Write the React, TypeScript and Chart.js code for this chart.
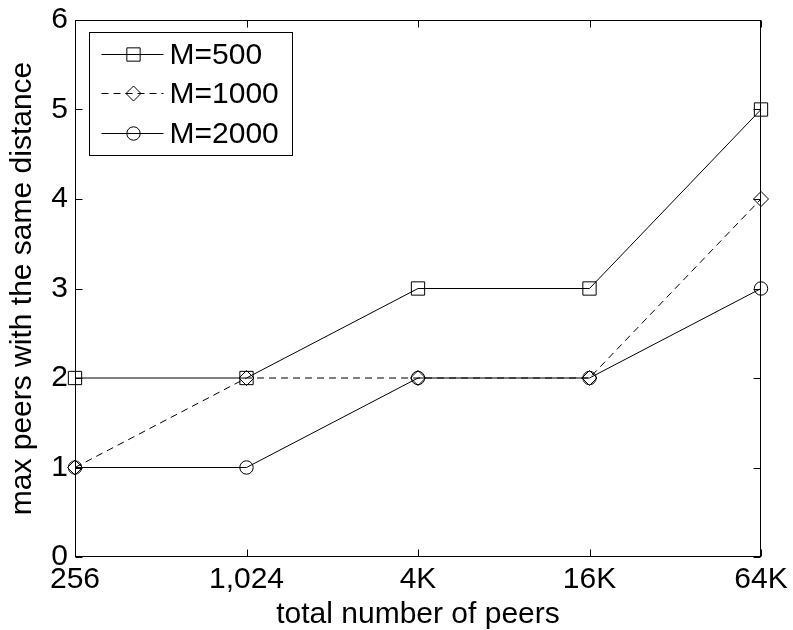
import React, { useEffect, useRef } from 'react';
import { Chart, registerables } from 'chart.js';

Chart.register(...registerables);

const categories = ['256', '1,024', '4K', '16K', '64K'];
const seriesNames = ['M=500', 'M=1000', 'M=2000'];
const m500 = [2, 2, 3, 3, 5];
const m1000 = [1, 2, 2, 2, 4];
const m2000 = [1, 1, 2, 2, 3];
const yMin = 0;
const yMax = 6;
const yStep = 1;
const xTitle = 'total number of peers';
const yTitle = 'max peers with the same distance';

const FONT = "'Liberation Sans', Arial, Helvetica, sans-serif";
const FS = 30;

const markerStyles = ['rect', 'rectRot', 'circle'];
const markerRadii = [9.4, 7.5, 6.7];
const dashes: number[][] = [[], [7, 5], []];

function drawMarker(ctx: CanvasRenderingContext2D, style: string, r: number, x: number, y: number) {
  ctx.beginPath();
  if (style === 'rect') {
    const s = Math.SQRT1_2 * r;
    ctx.rect(x - s, y - s, 2 * s, 2 * s);
  } else if (style === 'rectRot') {
    ctx.moveTo(x - r, y);
    ctx.lineTo(x, y - r);
    ctx.lineTo(x + r, y);
    ctx.lineTo(x, y + r);
    ctx.closePath();
  } else {
    ctx.arc(x, y, r, 0, Math.PI * 2);
  }
  ctx.stroke();
}

const framePlugin = {
  id: 'frame',
  afterDraw(chart: any) {
    const { ctx, chartArea, scales } = chart;
    const L = Math.round(chartArea.left) + 0.5;
    const R = Math.round(chartArea.right) - 0.5;
    const T = Math.round(chartArea.top) + 0.5;
    const B = Math.round(chartArea.bottom) - 0.5;
    ctx.save();
    ctx.strokeStyle = '#000';
    ctx.lineWidth = 1;
    ctx.setLineDash([]);
    ctx.strokeRect(L, T, R - L, B - T);
    const tl = 7;
    scales.x.ticks.forEach((_t: any, i: number) => {
      const px = Math.round(scales.x.getPixelForTick(i)) + 0.5;
      ctx.beginPath();
      ctx.moveTo(px, B);
      ctx.lineTo(px, B - tl);
      ctx.moveTo(px, T);
      ctx.lineTo(px, T + tl);
      ctx.stroke();
    });
    scales.y.ticks.forEach((_t: any, i: number) => {
      const py = Math.round(scales.y.getPixelForTick(i)) + 0.5;
      ctx.beginPath();
      ctx.moveTo(L, py);
      ctx.lineTo(L + tl, py);
      ctx.moveTo(R, py);
      ctx.lineTo(R - tl, py);
      ctx.stroke();
    });

    // legend
    const bx = Math.round(chartArea.left) + 14.5;
    const by = Math.round(chartArea.top) + 12.5;
    const bw = 203;
    const bh = 123;
    ctx.fillStyle = '#fff';
    ctx.fillRect(bx, by, bw, bh);
    ctx.strokeRect(bx, by, bw, bh);
    chart.data.datasets.forEach((ds: any, i: number) => {
      const ly = Math.round(by + 21 + i * 39.5) + 0.5;
      const x0 = bx + 12;
      const x1 = bx + 74;
      const mx = bx + 44;
      ctx.strokeStyle = ds.borderColor;
      ctx.lineWidth = 1;
      ctx.setLineDash(ds.borderDash || []);
      ctx.beginPath();
      ctx.moveTo(x0, ly);
      ctx.lineTo(x1, ly);
      ctx.stroke();
      ctx.setLineDash([]);
      drawMarker(ctx, ds.pointStyle, ds.pointRadius, mx, ly);
      ctx.fillStyle = '#000';
      ctx.font = `${FS}px ${FONT}`;
      ctx.textAlign = 'left';
      ctx.textBaseline = 'middle';
      ctx.fillText(ds.label, bx + 80, ly + 1);
    });
    ctx.restore();
  },
};

export default function App() {
  const ref = useRef<HTMLCanvasElement>(null);
  useEffect(() => {
    if (!ref.current) return;
    Chart.defaults.color = '#000';
    Chart.defaults.font.family = FONT;
    const series = [m500, m1000, m2000];
    const chart = new Chart(ref.current, {
      type: 'line',
      data: {
        labels: categories,
        datasets: series.map((d, i) => ({
          label: seriesNames[i],
          data: d,
          borderColor: '#000',
          borderWidth: 1,
          borderDash: dashes[i],
          pointStyle: markerStyles[i] as any,
          pointRadius: markerRadii[i],
          pointBorderColor: '#000',
          pointBackgroundColor: 'rgba(0,0,0,0)',
          pointBorderWidth: 1,
          tension: 0,
          clip: false as any,
          fill: false,
        })),
      },
      options: {
        responsive: false,
        animation: false,
        events: [],
        layout: { padding: { left: 0, top: 20, right: 32, bottom: 0 } },
        plugins: { legend: { display: false }, tooltip: { enabled: false } },
        scales: {
          x: {
            type: 'category',
            offset: false,
            grid: { display: false, drawTicks: false },
            border: { display: false },
            ticks: {
              font: { size: FS, family: FONT },
              color: '#000',
              padding: 5,
              maxRotation: 0,
              autoSkip: false,
            },
            title: {
              display: true,
              text: xTitle,
              font: { size: FS, family: FONT, lineHeight: 1.0 },
              color: '#000',
              padding: { top: 0, bottom: 0 },
            },
            afterFit: (s: any) => {
              s.height = 73;
              s.paddingLeft = 0;
              s.paddingRight = 0;
            },
          },
          y: {
            min: yMin,
            max: yMax,
            grid: { display: false, drawTicks: false },
            border: { display: false },
            ticks: {
              stepSize: yStep,
              font: { size: FS, family: FONT },
              color: '#000',
              padding: 7,
            },
            title: {
              display: true,
              text: yTitle,
              font: { size: FS, family: FONT },
              color: '#000',
              padding: { top: 5, bottom: 0 },
            },
            afterFit: (s: any) => {
              s.width = 75;
              s.paddingTop = 0;
              s.paddingBottom = 0;
            },
          },
        },
      },
      plugins: [framePlugin],
    });
    return () => chart.destroy();
  }, []);
  return (
    <div style={{ position: 'absolute', left: 0, top: 0, width: 793, height: 630 }}>
      <canvas ref={ref} width={793} height={630} />
    </div>
  );
}
